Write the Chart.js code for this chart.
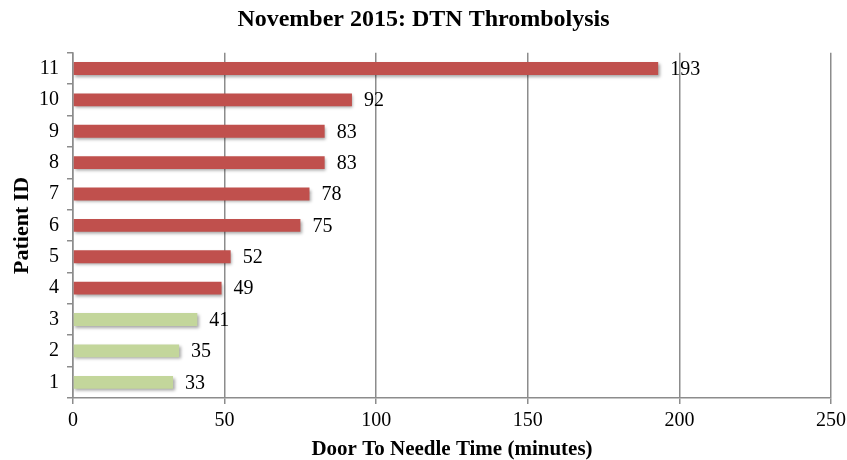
<!DOCTYPE html>
<html>
<head>
<meta charset="utf-8">
<script src="https://cdn.jsdelivr.net/npm/chart.js@4/dist/chart.umd.min.js"></script>
<style>
  html, body { margin: 0; padding: 0; background: #fff; }
  #wrap { width: 847px; height: 460px; }
</style>
</head>
<body>
<div id="wrap"><canvas id="c" width="847" height="460"></canvas></div>
<script>
const patientIds = ['1','2','3','4','5','6','7','8','9','10','11'];
const dtnMinutes = [33, 35, 41, 49, 52, 75, 78, 83, 83, 92, 193];
const xTicks = [0, 50, 100, 150, 200, 250];
const targetMinutes = 45;

const RED = '#C0504D';
const GREEN = '#C3D69B';
const SERIF = "'Liberation Serif', 'DejaVu Serif', serif";

const barColors = dtnMinutes.map(v => v <= targetMinutes ? GREEN : RED);

const shadowPlugin = {
  id: 'barShadow',
  beforeDatasetsDraw(chart) {
    const ctx = chart.ctx;
    ctx.save();
    ctx.shadowColor = 'rgba(0,0,0,0.35)';
    ctx.shadowBlur = 3;
    ctx.shadowOffsetX = 1.5;
    ctx.shadowOffsetY = 2;
  },
  afterDatasetsDraw(chart) {
    chart.ctx.restore();
  }
};

const labelPlugin = {
  id: 'barLabels',
  afterDraw(chart) {
    const ctx = chart.ctx;
    const meta = chart.getDatasetMeta(0);
    ctx.save();
    ctx.fillStyle = '#000';
    ctx.font = "20px " + SERIF;
    ctx.textAlign = 'left';
    ctx.textBaseline = 'middle';
    meta.data.forEach((el, i) => {
      ctx.fillText(String(dtnMinutes[i]), el.x + 12, el.y + 1);
    });
    ctx.restore();
  }
};

new Chart(document.getElementById('c'), {
  type: 'bar',
  data: {
    labels: patientIds,
    datasets: [{
      data: dtnMinutes,
      backgroundColor: barColors,
      borderWidth: 0,
      categoryPercentage: 1.0,
      barPercentage: 0.41
    }]
  },
  plugins: [shadowPlugin, labelPlugin],
  options: {
    indexAxis: 'y',
    responsive: false,
    animation: false,
    devicePixelRatio: 1,
    layout: { padding: { left: 0, right: 0, top: 0, bottom: 0 } },
    plugins: {
      legend: { display: false },
      tooltip: { enabled: false },
      title: {
        display: true,
        text: 'November 2015: DTN Thrombolysis',
        color: '#000',
        font: { family: SERIF, size: 24, weight: 'bold', lineHeight: 1.2 },
        padding: { top: 5, bottom: 19 }
      }
    },
    scales: {
      x: {
        type: 'linear',
        min: 0,
        max: 250,
        afterBuildTicks(scale) { scale.ticks = xTicks.map(v => ({ value: v })); },
        afterFit(scale) { scale.height = 62; scale.paddingRight = 16; },
        grid: {
          color: '#8c8c8c',
          lineWidth: 1.5,
          drawTicks: true,
          tickLength: 6
        },
        border: { display: true, color: '#8c8c8c', width: 1.5 },
        ticks: {
          color: '#000',
          font: { family: SERIF, size: 20 },
          padding: 5,
          maxRotation: 0
        },
        title: {
          display: true,
          text: 'Door To Needle Time (minutes)',
          color: '#000',
          font: { family: SERIF, size: 21, weight: 'bold', lineHeight: 1.0 },
          padding: { top: 0, bottom: 0 }
        }
      },
      y: {
        reverse: true,
        afterFit(scale) { scale.width = 73; },
        grid: {
          drawOnChartArea: false,
          drawTicks: true,
          tickLength: 6,
          color: '#8c8c8c',
          lineWidth: 1.5,
          offset: true
        },
        border: { display: true, color: '#8c8c8c', width: 1.5 },
        ticks: {
          color: '#000',
          font: { family: SERIF, size: 20 },
          padding: 8
        },
        title: {
          display: true,
          text: 'Patient ID',
          color: '#000',
          font: { family: SERIF, size: 22, weight: 'bold', lineHeight: 1.2 },
          padding: { top: 9, bottom: 0 }
        }
      }
    }
  }
});
</script>
</body>
</html>
